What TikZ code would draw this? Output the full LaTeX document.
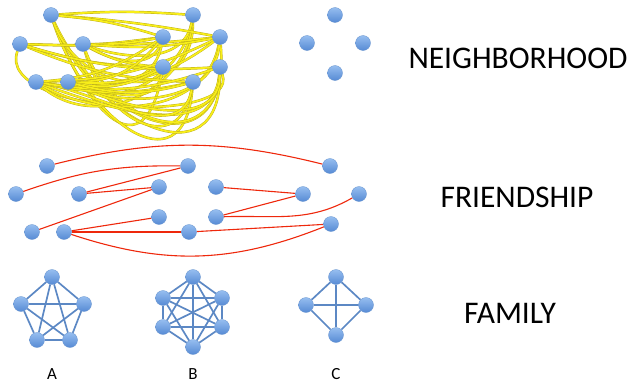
\documentclass[tikz,border=0pt]{standalone}
\usepackage{fontspec}
\setmainfont{Carlito}
\usetikzlibrary{backgrounds}
\usetikzlibrary{positioning}
\definecolor{balltop}{RGB}{150,190,240}
\definecolor{ballbot}{RGB}{86,138,212}
\definecolor{balledge}{RGB}{100,145,205}
\definecolor{tubeyellow}{RGB}{248,238,25}
\definecolor{tubeedge}{RGB}{185,172,25}
\definecolor{friendred}{RGB}{238,40,12}
\definecolor{familyblue}{RGB}{92,136,196}

\begin{document}
\begin{tikzpicture}[x=1pt,y=1pt,
    blue node/.style={circle,draw=balledge,line width=0.3pt,top color=balltop,bottom color=ballbot,inner sep=0pt,minimum size=15pt},
    yellow edge/.style={draw=tubeedge,line width=0.4pt,double=tubeyellow,double distance=1.7pt},
    red edge/.style={draw=friendred,line width=1.1pt},
    family edge/.style={draw=familyblue,line width=1.7pt},
    big text/.style={font=\fontsize{31.5}{36}\selectfont},
    small text/.style={font=\fontsize{17}{20}\selectfont}]
  \useasboundingbox (0,0) rectangle (629,-383);

  % neighborhood
  \node[blue node] (n1) at (51,-15) {};
  \node[blue node] (n2) at (193,-15) {};
  \node[blue node] (n3) at (20,-44) {};
  \node[blue node] (n4) at (83,-44) {};
  \node[blue node] (n5) at (163,-37) {};
  \node[blue node] (n6) at (220,-37) {};
  \node[blue node] (n7) at (163,-67) {};
  \node[blue node] (n8) at (220,-67) {};
  \node[blue node] (n9) at (36,-82) {};
  \node[blue node] (n10) at (68,-82) {};
  \node[blue node] (n11) at (193,-82) {};

  \node[blue node] (d1) at (335,-15) {};
  \node[blue node] (d2) at (307,-43) {};
  \node[blue node] (d3) at (363,-43) {};
  \node[blue node] (d4) at (335,-73) {};

  \begin{pgfonlayer}{background}
    % long loop round the left side
    \draw[yellow edge] (n3) .. controls +(-25,-70) and +(20,-60) .. (n8);
    % deep curves
    \foreach \a/\b/\o/\i/\l in {n1/n7/-70/-100/2.1,n1/n11/-72/-95/1.7,n1/n8/-68/-90/1.6,n1/n6/-65/-85/1.9,
        n1/n2/-70/-90/1.5,n4/n11/-75/-100/1.6,n4/n8/-70/-95/1.5,
        n2/n9/-95/-40/1.1,n2/n10/-100/-30/1,n2/n4/-100/-20/1,
        n6/n9/-100/-30/1,n6/n10/-95/-25/1,n8/n9/-95/-20/1,n8/n10/-90/-25/1,
        n5/n9/-100/-10/1,n7/n10/-100/-15/1,n11/n9/-100/-10/1,n5/n4/-110/-30/1}
      {\draw[yellow edge] (\a) to[out=\o,in=\i,looseness=\l] (\b);}
    % flat curves
    \foreach \a/\b/\bnd in {n1/n2/-4,n1/n6/-3,n1/n5/-6,
        n3/n5/5,n3/n7/8,n3/n11/10,n3/n6/4,n3/n8/10,
        n4/n5/6,n4/n6/8,n4/n7/12,
        n9/n7/15,n9/n11/12,n9/n8/14,n9/n6/12,n9/n5/15,
        n10/n5/25,n10/n6/20,n10/n7/20,n10/n11/15}
      {\draw[yellow edge] (\a) to[bend right=\bnd] (\b);}
  \end{pgfonlayer}

  \node[big text] (hood) at (518,-58) {NEIGHBORHOOD};

  % friendship
  \node[blue node] (f1) at (47,-166) {};
  \node[blue node] (f2) at (188,-166) {};
  \node[blue node] (f3) at (330,-166) {};
  \node[blue node] (f4) at (16,-194) {};
  \node[blue node] (f5) at (79,-194) {};
  \node[blue node] (f6) at (159,-187) {};
  \node[blue node] (f7) at (216,-187) {};
  \node[blue node] (f8) at (303,-194) {};
  \node[blue node] (f9) at (359,-194) {};
  \node[blue node] (f10) at (159,-217) {};
  \node[blue node] (f11) at (216,-217) {};
  \node[blue node] (f12) at (32,-232) {};
  \node[blue node] (f13) at (64,-232) {};
  \node[blue node] (f14) at (189,-232) {};
  \node[blue node] (f15) at (331,-224) {};

  \begin{pgfonlayer}{background}
    \path[red edge] (f1) edge[bend left=14] (f3);
    \path[red edge] (f4) edge[bend left=10] (f2);
    \path[red edge] (f5) edge (f2);
    \path[red edge] (f5) edge (f6);
    \path[red edge] (f12) edge (f6);
    \path[red edge] (f7) edge (f8);
    \path[red edge] (f8) edge (f11);
    \path[red edge] (f11) edge[out=2,in=-150] (f9);
    \path[red edge] (f13) edge (f10);
    \path[red edge] (f13) edge (f14);
    \path[red edge] (f14) edge (f15);
    \path[red edge] (f13) edge[bend right=20] (f15);
  \end{pgfonlayer}

  \node[big text] (friend) at (517,-197) {FRIENDSHIP};

  % family
  \node[blue node] (a1) at (52,-277) {};
  \node[blue node] (a2) at (21,-304) {};
  \node[blue node] (a3) at (84,-304) {};
  \node[blue node] (a4) at (37,-340) {};
  \node[blue node] (a5) at (70,-340) {};

  \node[blue node] (b1) at (193,-277) {};
  \node[blue node] (b2) at (163,-298) {};
  \node[blue node] (b3) at (222,-298) {};
  \node[blue node] (b4) at (163,-327) {};
  \node[blue node] (b5) at (222,-327) {};
  \node[blue node] (b6) at (193,-347) {};

  \node[blue node] (c1) at (336,-277) {};
  \node[blue node] (c2) at (306,-305) {};
  \node[blue node] (c3) at (366,-305) {};
  \node[blue node] (c4) at (336,-335) {};

  \begin{pgfonlayer}{background}
    \foreach \i in {1,...,5}
      \foreach \j in {1,...,5}
        {\ifnum\i<\j \path[family edge] (a\i) edge (a\j); \fi}
    \foreach \i in {1,...,6}
      \foreach \j in {1,...,6}
        {\ifnum\i<\j \path[family edge] (b\i) edge (b\j); \fi}
    \foreach \i in {1,...,4}
      \foreach \j in {1,...,4}
        {\ifnum\i<\j \path[family edge] (c\i) edge (c\j); \fi}
  \end{pgfonlayer}

  \node[big text] (family) at (510,-313) {FAMILY};
  \node[small text] (la) at (52,-374) {A};
  \node[small text] (lb) at (193,-374) {B};
  \node[small text] (lc) at (336,-374) {C};
\end{tikzpicture}
\end{document}
